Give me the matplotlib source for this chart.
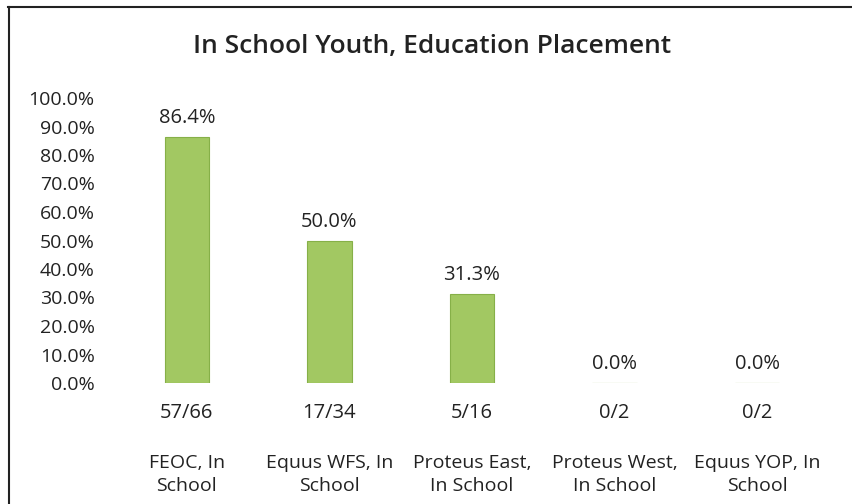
import matplotlib.pyplot as plt
from matplotlib.lines import Line2D

categories = ['FEOC, In\nSchool', 'Equus WFS, In\nSchool', 'Proteus East,\nIn School',
              'Proteus West,\nIn School', 'Equus YOP, In\nSchool']
values = [86.4, 50.0, 31.3, 0.0, 0.0]
fractions = ['57/66', '17/34', '5/16', '0/2', '0/2']
yticks = [0, 10, 20, 30, 40, 50, 60, 70, 80, 90, 100]

plt.rcParams['font.family'] = ['Open Sans', 'DejaVu Sans']

fig = plt.figure(figsize=(8.53, 5.04), dpi=100)
ax = fig.add_axes([115.5 / 853, 1 - 383 / 504, 713 / 853, 285 / 504])

x = list(range(len(values)))
ax.bar(x, values, width=0.31, color='#a2c862', edgecolor='#86b048', linewidth=0.8)

for xi, v, fr in zip(x, values, fractions):
    ax.text(xi, v + 3, f'{v:.1f}%', ha='center', va='bottom', fontsize=14.5, color='#222222')
    ax.text(xi, -7, fr, ha='center', va='top', fontsize=14.5, color='#222222')

ax.set_xlim(-0.5, len(values) - 0.5)
ax.set_ylim(0, 100)
ax.set_yticks(yticks)
ax.set_yticklabels([f'{t:.1f}%' for t in yticks], fontsize=14, color='#222222')
ax.set_xticks(x)
ax.set_xticklabels(categories, fontsize=14, color='#222222', linespacing=1.35)
ax.tick_params(axis='x', length=0, pad=51)
ax.tick_params(axis='y', length=0, pad=15)
for s in ax.spines.values():
    s.set_visible(False)

fig.text(432 / 853, 1 - 47 / 504, 'In School Youth, Education Placement', ha='center', va='center',
         fontsize=19, fontweight='semibold', color='#222222')

# top and left edge of the chart area
fig.add_artist(Line2D([8 / 853, 1], [1 - 7 / 504, 1 - 7 / 504], transform=fig.transFigure,
                      color='#222222', linewidth=1.5))
fig.add_artist(Line2D([9 / 853, 9 / 853], [0, 1 - 7 / 504], transform=fig.transFigure,
                      color='#222222', linewidth=1.5))

fig.savefig('out.png', dpi=100)
